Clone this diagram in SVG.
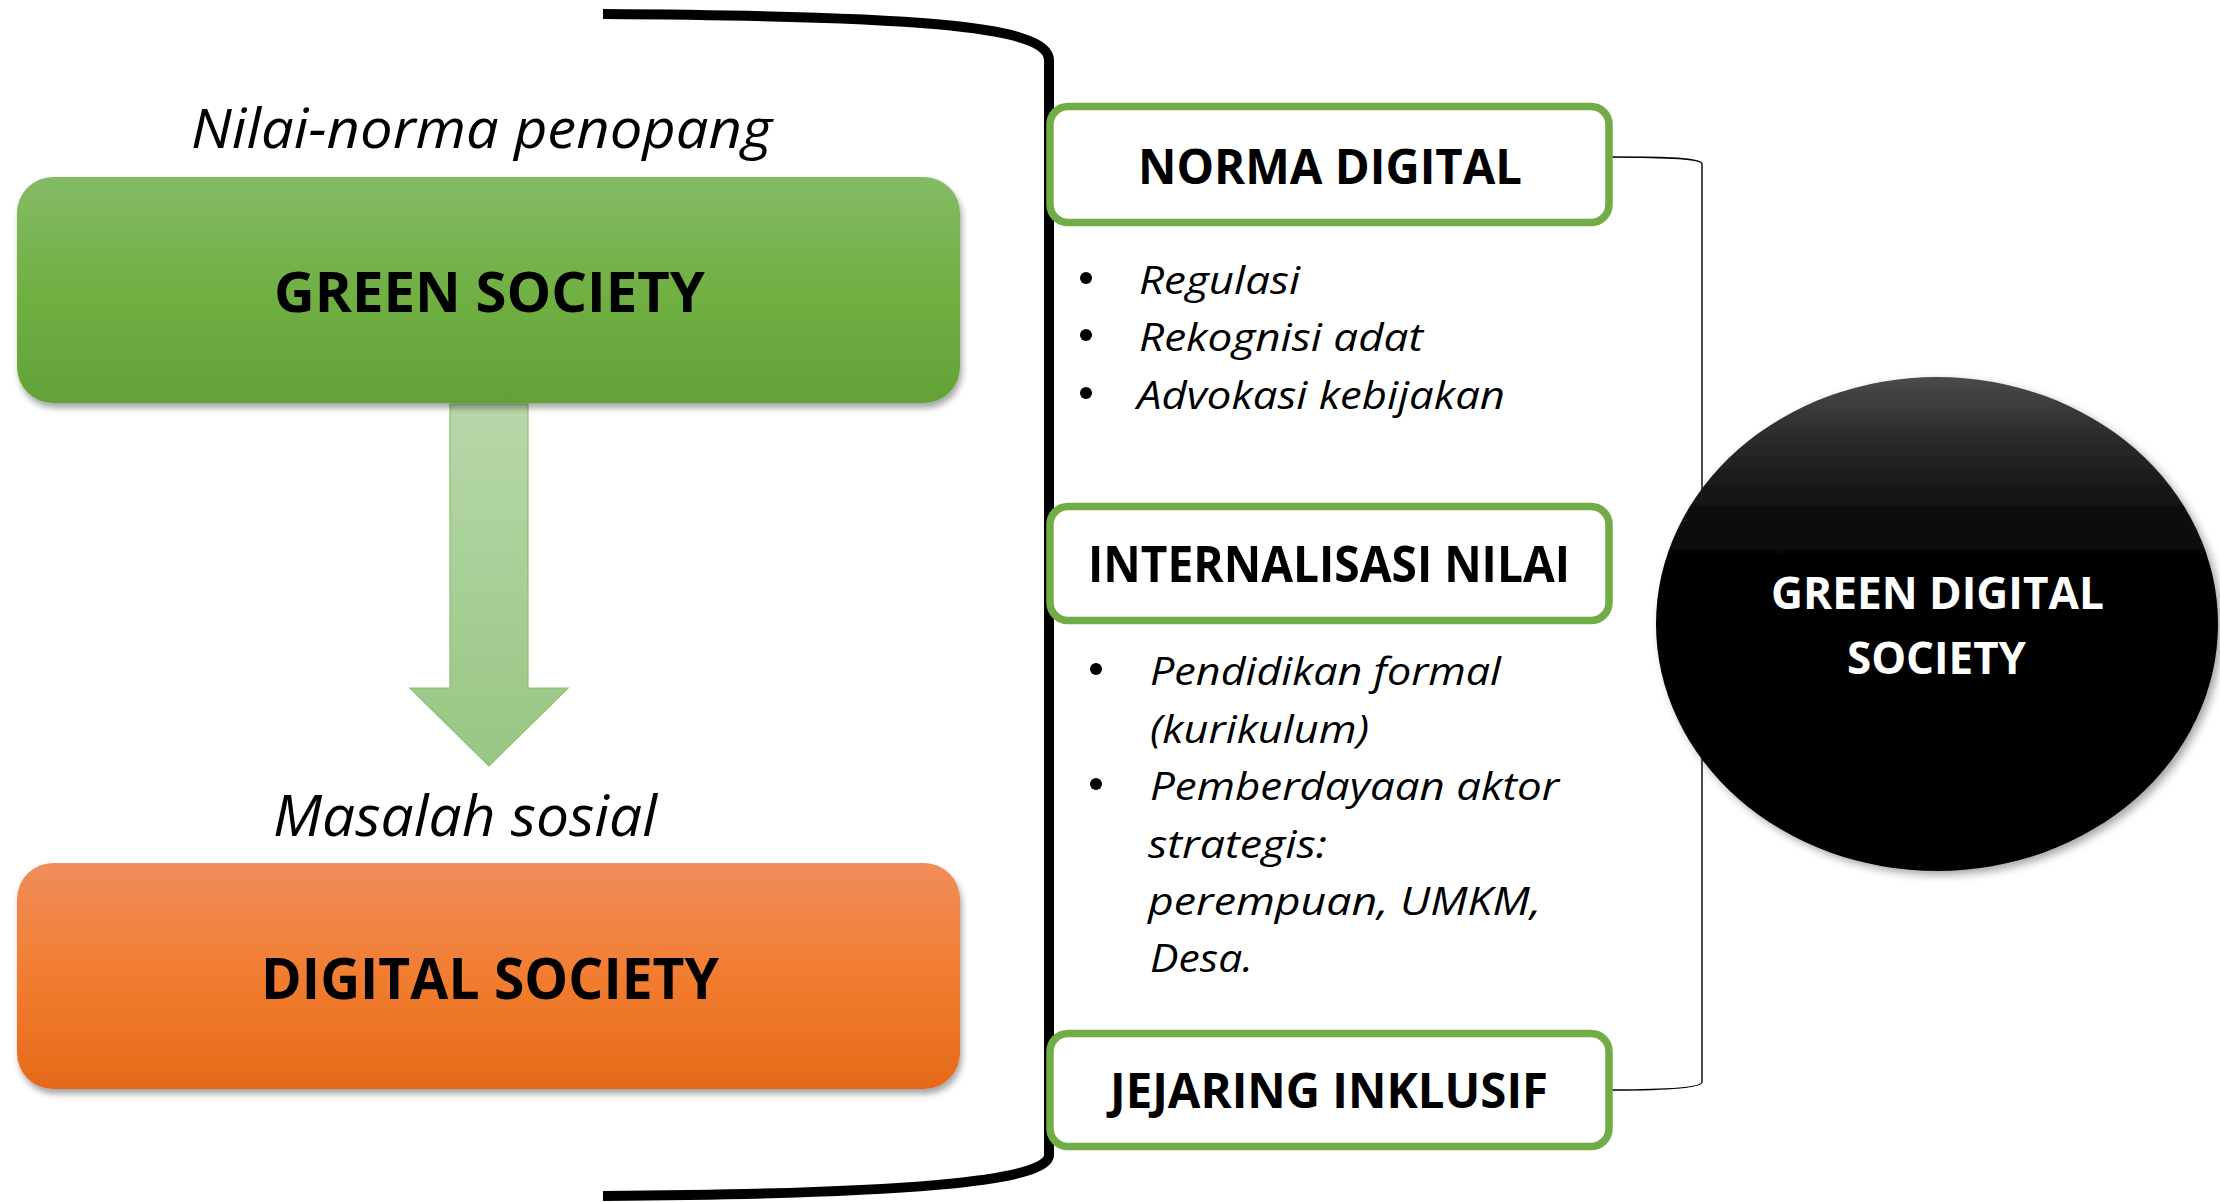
<svg xmlns="http://www.w3.org/2000/svg" width="2220" height="1202" viewBox="0 0 2220 1202">
<defs>
<linearGradient id="gGreen" x1="0" y1="0" x2="0" y2="1">
<stop offset="0" stop-color="#84bb66"/><stop offset="0.5" stop-color="#71b043"/><stop offset="1" stop-color="#62a236"/>
</linearGradient>
<linearGradient id="gOrange" x1="0" y1="0" x2="0" y2="1">
<stop offset="0" stop-color="#f08d5a"/><stop offset="0.5" stop-color="#f27d30"/><stop offset="1" stop-color="#e56a19"/>
</linearGradient>
<linearGradient id="gArrow" x1="0" y1="0" x2="0" y2="1">
<stop offset="0" stop-color="#b7d8a9"/><stop offset="1" stop-color="#98c683"/>
</linearGradient>
<linearGradient id="gBlack" gradientUnits="userSpaceOnUse" x1="0" y1="377" x2="0" y2="871">
<stop offset="0" stop-color="#4a4a4a"/><stop offset="0.12" stop-color="#2c2c2c"/><stop offset="0.3" stop-color="#0a0a0a"/><stop offset="0.45" stop-color="#000"/><stop offset="1" stop-color="#000"/>
</linearGradient>
<filter id="shadow" x="-10%" y="-10%" width="120%" height="130%">
<feDropShadow dx="2" dy="5" stdDeviation="3" flood-color="#000" flood-opacity="0.35"/>
</filter>
<filter id="cshadow" x="-10%" y="-10%" width="125%" height="125%">
<feDropShadow dx="4" dy="4" stdDeviation="4" flood-color="#000" flood-opacity="0.35"/>
</filter>
</defs>
<style>
.bold{font-family:"Open Sans","Liberation Sans",sans-serif;font-weight:bold;fill:#000}
.ital{font-family:"Open Sans","Liberation Sans",sans-serif;font-style:italic;fill:#000}
.hdr{fill:#fff;stroke:#70ad47;stroke-width:7.5}
.bul{fill:#000}
</style>
<rect width="2220" height="1202" fill="#fff"/>

<g id="connectors">
<path d="M 603 14 C 900 16, 1049 24, 1049 60 L 1049 1155 C 1049 1182, 900 1194, 603 1196" fill="none" stroke="#000" stroke-width="10"/>
<path d="M 1612 157 C 1665 157, 1702 158, 1702 164 L 1702 1082 C 1702 1088, 1665 1090, 1612 1090" fill="none" stroke="#000" stroke-width="1.4"/>
<g id="arrow">
<path d="M 450 404 L 528 404 L 528 688 L 568 688 L 489 766 L 410 688 L 450 688 Z" fill="url(#gArrow)" stroke="#8cc06c" stroke-width="1.2"/>
</g>
</g>

<text class="ital" x="191" y="148" font-size="54" textLength="581" lengthAdjust="spacingAndGlyphs">Nilai-norma penopang</text>

<g id="green-society">
<rect x="17" y="177" width="943" height="226" rx="36" fill="url(#gGreen)" filter="url(#shadow)"/>
<text class="bold" x="274" y="312" font-size="56" textLength="431" lengthAdjust="spacingAndGlyphs">GREEN SOCIETY</text>
</g>

<text class="ital" x="273" y="836" font-size="56" textLength="384" lengthAdjust="spacingAndGlyphs">Masalah sosial</text>

<g id="digital-society">
<rect x="17" y="863" width="943" height="226" rx="36" fill="url(#gOrange)" filter="url(#shadow)"/>
<text class="bold" x="261" y="999" font-size="58" textLength="458" lengthAdjust="spacingAndGlyphs">DIGITAL SOCIETY</text>
</g>

<g id="norma-digital">
<rect class="hdr" x="1050" y="106.5" width="559" height="116" rx="18"/>
<text class="bold" x="1138" y="184" font-size="48" textLength="384" lengthAdjust="spacingAndGlyphs">NORMA DIGITAL</text>
</g>
<g id="norma-list">
<circle class="bul" cx="1086" cy="278" r="6"/>
<text class="ital" x="1139" y="294" font-size="38" textLength="161" lengthAdjust="spacingAndGlyphs">Regulasi</text>
<circle class="bul" cx="1086" cy="335" r="6"/>
<text class="ital" x="1139" y="351" font-size="38" textLength="284" lengthAdjust="spacingAndGlyphs">Rekognisi adat</text>
<circle class="bul" cx="1086" cy="393" r="6"/>
<text class="ital" x="1137" y="409" font-size="38" textLength="368" lengthAdjust="spacingAndGlyphs">Advokasi kebijakan</text>
</g>

<g id="internalisasi-nilai">
<rect class="hdr" x="1050" y="506.5" width="559" height="114" rx="18"/>
<text class="bold" x="1088" y="582" font-size="50" textLength="482" lengthAdjust="spacingAndGlyphs">INTERNALISASI NILAI</text>
</g>
<g id="internalisasi-list">
<circle class="bul" cx="1096" cy="669" r="6"/>
<text class="ital" x="1150" y="685" font-size="39" textLength="351" lengthAdjust="spacingAndGlyphs">Pendidikan formal</text>
<text class="ital" x="1150" y="743" font-size="39" textLength="219" lengthAdjust="spacingAndGlyphs">(kurikulum)</text>
<circle class="bul" cx="1096" cy="784" r="6"/>
<text class="ital" x="1150" y="800" font-size="39" textLength="409" lengthAdjust="spacingAndGlyphs">Pemberdayaan aktor</text>
<text class="ital" x="1148" y="858" font-size="39" textLength="179" lengthAdjust="spacingAndGlyphs">strategis:</text>
<text class="ital" x="1148" y="915" font-size="39" textLength="393" lengthAdjust="spacingAndGlyphs">perempuan, UMKM,</text>
<text class="ital" x="1150" y="972" font-size="39" textLength="103" lengthAdjust="spacingAndGlyphs">Desa.</text>
</g>

<g id="jejaring-inklusif">
<rect class="hdr" x="1050" y="1033.5" width="559" height="113" rx="18"/>
<text class="bold" x="1110" y="1108" font-size="48" textLength="438" lengthAdjust="spacingAndGlyphs">JEJARING INKLUSIF</text>
</g>

<g id="green-digital-society">
<ellipse cx="1937" cy="624" rx="281" ry="247" fill="url(#gBlack)" filter="url(#cshadow)"/>
<text class="bold" x="1771" y="609" font-size="45" textLength="333" lengthAdjust="spacingAndGlyphs" style="fill:#fff">GREEN DIGITAL</text>
<text class="bold" x="1847" y="674" font-size="45" textLength="179" lengthAdjust="spacingAndGlyphs" style="fill:#fff">SOCIETY</text>
</g>
</svg>
